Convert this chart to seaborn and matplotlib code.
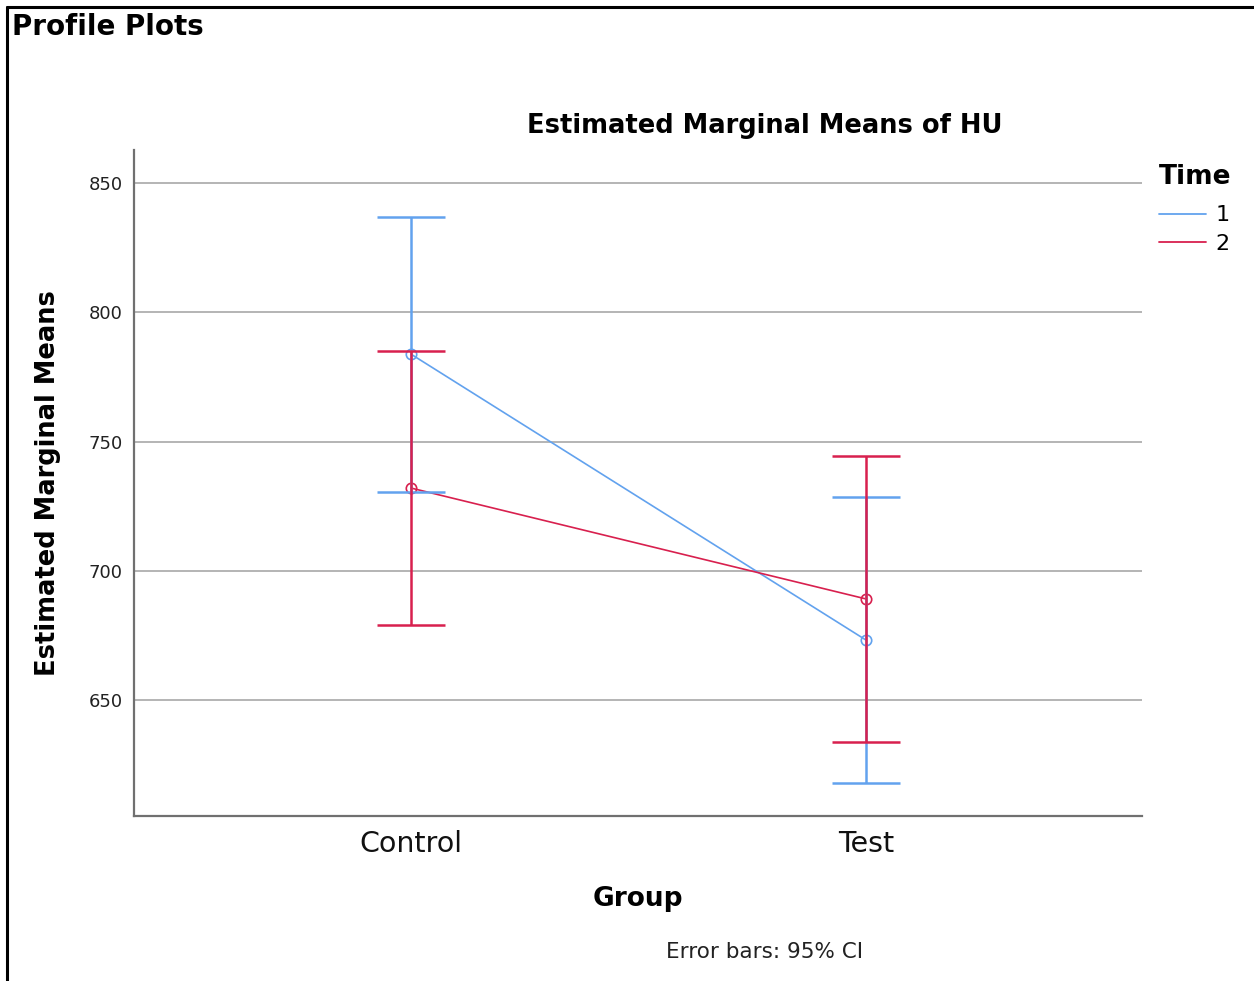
import matplotlib
matplotlib.use("Agg")
import matplotlib.pyplot as plt
from matplotlib.lines import Line2D
import numpy as np
import pandas as pd
import seaborn as sns

# ---- data ----
groups = ["Control", "Test"]
times = ["1", "2"]
means_t1 = [783.8, 673.2]
means_t2 = [732.0, 689.1]
ci_low_t1 = [730.5, 617.9]
ci_high_t1 = [836.8, 728.5]
ci_low_t2 = [679.0, 633.8]
ci_high_t2 = [785.0, 744.4]
yticks = [650, 700, 750, 800, 850]

colors = {"1": "#62a2ee", "2": "#d8204e"}

df = pd.DataFrame({
    "Group": groups * 2,
    "Time": [times[0]] * 2 + [times[1]] * 2,
    "HU": means_t1 + means_t2,
})

sns.set_theme(style="white")
plt.rcParams["font.family"] = ["DejaVu Sans"]
plt.rcParams["text.color"] = "black"

W, H = 1254, 981
fig = plt.figure(figsize=(W / 100, H / 100), dpi=100)
ax = fig.add_axes([134 / W, 1 - 816 / H, (1142 - 134) / W, (816 - 150) / H])

sns.pointplot(data=df, x="Group", y="HU", hue="Time", order=groups,
              hue_order=times, palette=colors, errorbar=None, dodge=False,
              markers="o", linewidth=1.2, markersize=7.5, ax=ax, legend=False)
for ln in ax.lines:
    ln.set_markerfacecolor("none")
    ln.set_markeredgewidth(1.2)

xpos = np.arange(len(groups))
for t, m, lo, hi in [("1", means_t1, ci_low_t1, ci_high_t1),
                     ("2", means_t2, ci_low_t2, ci_high_t2)]:
    m = np.array(m); lo = np.array(lo); hi = np.array(hi)
    ax.errorbar(xpos, m, yerr=[m - lo, hi - m], fmt="none",
                ecolor=colors[t], elinewidth=1.8, capsize=24.5, capthick=1.8,
                zorder=3)

ax.set_xlim(-0.609, 1.607)
ax.set_ylim(605.1, 862.8)
ax.set_yticks(yticks)
ax.set_yticklabels([str(v) for v in yticks], fontsize=13, color="#222222")
ax.tick_params(axis="x", labelsize=20.5, colors="#111111", length=0, pad=10)
ax.tick_params(axis="y", length=0, pad=8)
ax.grid(axis="y", color="#b4b4b4", linewidth=1.4)
ax.grid(axis="x", visible=False)
ax.set_axisbelow(True)
for s in ["top", "right"]:
    ax.spines[s].set_visible(False)
for s in ["left", "bottom"]:
    ax.spines[s].set_color("#707070")
    ax.spines[s].set_linewidth(1.6)
ax.set_xlabel("Group", fontsize=19, fontweight="bold", labelpad=20,
              color="black")
ax.set_ylabel("Estimated Marginal Means", fontsize=18.5, fontweight="bold",
              labelpad=20, color="black")

handles = [Line2D([0], [0], color=colors[t], linewidth=1.3) for t in times]
leg = ax.legend(handles, times, title="Time", loc="upper left",
                bbox_to_anchor=(1.008, 0.992), frameon=False, fontsize=16,
                handlelength=2.1, handletextpad=0.45, labelspacing=0.38,
                alignment="left", borderaxespad=0.0)
leg.get_title().set_fontweight("bold")
leg.get_title().set_fontsize(19)
leg._legend_box.sep = 11
for txt in leg.get_texts():
    txt.set_color("black")

fig.text(765 / W, 1 - 126 / H, "Estimated Marginal Means of HU", ha="center",
         va="center", fontsize=18.5, fontweight="bold", color="black")
fig.text(12 / W, 1 - 27 / H, "Profile Plots", ha="left", va="center",
         fontsize=20, fontweight="bold", color="black")
fig.text(765 / W, 1 - 952 / H, "Error bars: 95% CI", ha="center",
         va="center", fontsize=15.5, color="#222222")

fig.add_artist(Line2D([7 / W, 1], [1 - 7 / H, 1 - 7 / H], color="black",
                      linewidth=2.2, transform=fig.transFigure))
fig.add_artist(Line2D([7 / W, 7 / W], [0, 1 - 7 / H], color="black",
                      linewidth=2.2, transform=fig.transFigure))

fig.savefig("out.png", dpi=100, facecolor="white")
